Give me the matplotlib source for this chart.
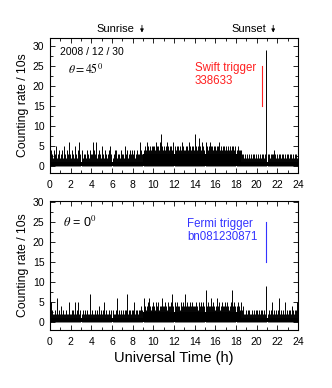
import matplotlib
matplotlib.use("Agg")
import matplotlib.pyplot as plt
import numpy as np
from matplotlib.ticker import MultipleLocator

plt.rcParams['font.family'] = ['Liberation Sans', 'DejaVu Sans']
plt.rcParams['mathtext.fontset'] = 'stix'

# time grid step (h) and values
step = 0.1
peaks_top = [
    4,3,2,4,3,5,2,3,4,2,
    3,4,2,5,3,2,4,3,6,3,
    2,4,3,2,5,3,2,4,6,3,
    4,2,3,3,2,4,3,2,4,3,
    3,6,4,3,6,2,3,4,3,2,
    5,3,2,4,3,2,3,4,5,3,
    2,3,4,4,2,3,3,2,4,3,
    3,2,5,3,4,2,3,4,3,4,
    3,4,2,3,4,3,3,6,4,3,
    4,5,4,6,5,4,5,4,5,5,
    5,4,6,5,5,4,6,8,5,4,
    5,4,5,6,5,4,5,5,4,6,
    5,4,5,5,4,5,4,6,5,4,
    4,5,5,4,6,5,4,5,5,4,
    8,5,4,5,7,5,4,6,5,4,
    6,5,4,5,6,5,5,4,5,5,
    4,5,5,6,4,5,4,5,5,4,
    5,4,5,4,5,4,5,5,4,5,
    4,5,4,4,4,3,3,2,3,2,
    3,2,3,2,3,2,3,3,2,3,
    2,3,2,3,2,3,3,2,3,29,
    3,3,2,3,3,3,4,3,2,3,
    2,3,3,2,3,3,2,3,2,3,
    3,2,3,3,2,3,2,3,3,2,
]
peaks_bot = [
    5,3,2,2,3,2,6,2,3,2,
    4,2,3,2,2,3,2,2,5,2,
    2,3,3,2,5,2,3,5,2,3,
    2,3,2,3,2,3,2,2,7,2,
    3,2,2,3,2,3,2,4,2,3,
    2,3,5,2,3,2,2,3,2,3,
    3,2,2,3,6,2,3,2,3,2,
    3,2,3,3,7,2,3,3,2,3,
    3,5,2,3,3,2,3,3,4,3,
    6,4,3,4,5,6,4,3,4,5,
    4,3,5,4,5,3,4,4,6,4,
    4,5,4,3,5,4,4,5,7,4,
    5,4,5,4,4,3,5,4,5,4,
    7,4,5,4,4,5,4,5,4,4,
    4,5,4,3,5,4,5,4,5,4,
    8,4,5,4,4,6,4,5,4,3,
    4,6,4,5,3,4,5,4,4,5,
    4,5,4,3,4,5,8,4,5,4,
    4,5,4,3,5,3,4,2,2,3,
    2,3,3,2,2,3,2,3,2,3,
    3,2,3,2,3,3,2,3,2,9,
    2,3,2,3,5,2,3,2,3,2,
    3,6,2,3,2,3,2,5,2,3,
    2,3,3,2,4,3,2,3,3,5,
]
# solid base level per half hour
base_top = [1]*18 + [3]*19 + [1]*11
base_bot = [1]*18 + [2.5]*19 + [1]*11

fig = plt.figure(figsize=(3.32, 3.88), dpi=100)
ax1 = fig.add_axes([0.1506, 0.554, 0.747, 0.348])
ax2 = fig.add_axes([0.1506, 0.1495, 0.747, 0.3325])

def draw(ax, peaks, base, ylim):
    t = np.arange(len(peaks)) * step + step / 2
    ax.vlines(t, 0, peaks, color='black', lw=0.7)
    tb = np.arange(len(base) + 1) * 0.5
    ax.fill_between(tb, 0, base + [base[-1]], step='post', color='black', lw=0)
    ax.set_xlim(0, 24)
    ax.set_ylim(*ylim)
    ax.xaxis.set_major_locator(MultipleLocator(2))
    ax.xaxis.set_minor_locator(MultipleLocator(1))
    ax.yaxis.set_major_locator(MultipleLocator(5))
    ax.yaxis.set_minor_locator(MultipleLocator(2.5))
    ax.tick_params(which='both', direction='in', top=True, right=True,
                   labelsize=7.5, width=0.6)
    ax.tick_params(axis='x', pad=5)
    ax.tick_params(axis='y', pad=4)
    ax.tick_params(which='major', length=3.5)
    ax.tick_params(which='minor', length=2)
    for s in ax.spines.values():
        s.set_linewidth(0.8)
    ax.set_ylabel('Counting rate / 10s', fontsize=8.8, labelpad=3)

draw(ax1, peaks_top, base_top, (-1.8, 32))
draw(ax2, peaks_bot, base_bot, (-2.0, 30.3))

ax2.set_xlabel('Universal Time (h)', fontsize=10.5, labelpad=3)

# annotations top panel
ax1.text(1.0, 28.5, '2008 / 12 / 30', fontsize=7.5, va='center')
ax1.text(1.7, 24.0, r'$\theta = 45^0$', fontsize=8.5, va='center')
ax1.text(14.0, 22.9, 'Swift trigger\n338633', fontsize=8.3, color='#ff2020',
         va='center', linespacing=1.1)
ax1.plot([20.5, 20.5], [15, 25], color='#ff2020', lw=0.8)
ax1.text(6.3, 1.065, 'Sunrise', fontsize=8, ha='center', va='center',
         transform=ax1.get_xaxis_transform())
ax1.text(19.2, 1.065, 'Sunset', fontsize=8, ha='center', va='center',
         transform=ax1.get_xaxis_transform())
for xa in (8.9, 21.6):
    ax1.annotate('', xy=(xa, 1.02), xytext=(xa, 1.115),
                 xycoords=ax1.get_xaxis_transform(),
                 textcoords=ax1.get_xaxis_transform(),
                 arrowprops=dict(arrowstyle='-|>', color='black', lw=0.6,
                                 mutation_scale=5), annotation_clip=False)

# annotations bottom panel
ax2.text(1.3, 25.0, r'$\theta$ = 0$^0$', fontsize=9, va='center')
ax2.text(13.3, 22.8, 'Fermi trigger\nbn081230871', fontsize=8.3, color='#3333ff',
         va='center', linespacing=1.1)
ax2.plot([20.9, 20.9], [15, 25], color='#3333ff', lw=0.8)

fig.savefig('out.png', dpi=100)
